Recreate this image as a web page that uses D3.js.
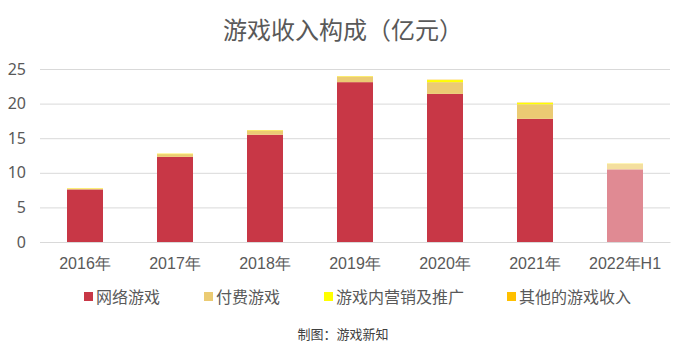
<!DOCTYPE html>
<html><head><meta charset="utf-8">
<script src="https://cdn.jsdelivr.net/npm/d3@7"></script>
<style>body{margin:0;background:#fff;}svg{display:block;font-family:"Noto Sans CJK SC","Noto Sans",sans-serif;}</style>
</head><body><svg id="c" width="687" height="357"></svg>
<script>
const categories = ["2016年","2017年","2018年","2019年","2020年","2021年","2022年H1"];
const seriesNames = ["网络游戏","付费游戏","游戏内营销及推广","其他的游戏收入"];
const onlineGames = [7.6, 12.3, 15.5, 23.1, 21.4, 17.8, 10.5];
const paidGames = [0.1, 0.4, 0.6, 0.8, 1.7, 2.1, 0.8];
const inGameMarketing = [0.05, 0.05, 0.05, 0.05, 0.3, 0.2, 0.05];
const otherRevenue = [0.02, 0.02, 0.02, 0.02, 0.05, 0.05, 0.02];
const yTicks = [0,5,10,15,20,25];
const colors = ["#c83746","#ebcb73","#ffff00","#ffc000"];
const lightColors = ["#e08a93","#f4df9f","#ffff80","#ffd966"];

const svg = d3.select("#c");
const mLeft=40,mRight=670,mTop=69,mBottom=242;
const x = d3.scaleBand().domain(categories).range([mLeft,mRight]).paddingInner(0.6).paddingOuter(0.3);
const y = d3.scaleLinear().domain([0,25]).range([mBottom,mTop]);

svg.append("text").attr("x",343).attr("y",39).attr("text-anchor","middle")
  .attr("font-size",24).attr("fill","#595959").text("游戏收入构成（亿元）");

const gy = svg.append("g").attr("transform",`translate(${mLeft},0)`)
  .call(d3.axisLeft(y).tickValues(yTicks).tickSize(-(mRight-mLeft)).tickPadding(14));
gy.select(".domain").remove();
gy.selectAll(".tick line").attr("stroke","#d9d9d9");
gy.selectAll(".tick text").attr("fill","#595959").attr("font-size",16).attr("font-family","'Noto Sans','DejaVu Sans',sans-serif");

const rows = categories.map((c,i)=>({cat:c, s0:onlineGames[i], s1:paidGames[i], s2:inGameMarketing[i], s3:otherRevenue[i], i}));
const stack = d3.stack().keys(["s0","s1","s2","s3"])(rows);
stack.forEach((layer,k)=>{
  svg.append("g").selectAll("rect").data(layer).join("rect")
    .attr("x",d=>x(d.data.cat)).attr("width",x.bandwidth())
    .attr("y",d=>y(d[1])).attr("height",d=>y(d[0])-y(d[1]))
    .attr("fill",d=>d.data.i===6?lightColors[k]:colors[k]);
});

const gx = svg.append("g").attr("transform",`translate(0,${mBottom})`)
  .call(d3.axisBottom(x).tickSize(0).tickPadding(16));
gx.select(".domain").attr("stroke","#d9d9d9");
gx.selectAll(".tick text").attr("fill","#595959").attr("font-size",16);

const legX=[84,204,324,507];
const lg = svg.append("g");
seriesNames.forEach((n,k)=>{
  lg.append("rect").attr("x",legX[k]).attr("y",292).attr("width",9).attr("height",9).attr("fill",colors[k]);
  lg.append("text").attr("x",legX[k]+12).attr("y",303).attr("font-size",16).attr("fill","#595959").text(n);
});
svg.append("text").attr("x",343).attr("y",339).attr("text-anchor","middle")
  .attr("font-size",13).attr("fill","#404040").text("制图：游戏新知");
</script></body></html>
